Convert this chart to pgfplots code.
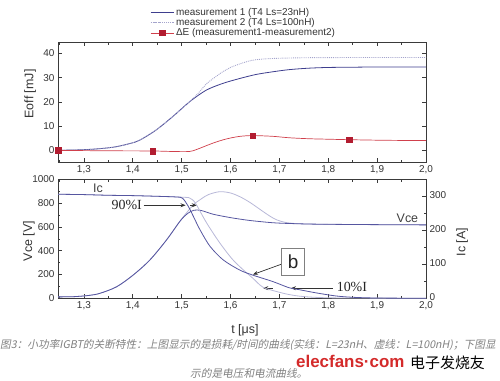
\documentclass[border=0pt]{standalone}
\usepackage{pgfplots}
\pgfplotsset{compat=1.18}
\usepackage{fontspec}
\setmainfont{Liberation Sans}
\newfontfamily\seriffont{Liberation Serif}
\newfontfamily\cjk{Noto Sans CJK SC}
\newfontfamily\cjkit[FakeSlant=0.2]{Noto Sans CJK SC}
\usetikzlibrary{arrows.meta}
\definecolor{mone}{HTML}{3E3E8E}
\definecolor{mtwo}{HTML}{A4A4CC}
\definecolor{bone}{HTML}{5656A0}
\definecolor{btwo}{HTML}{B8B8D8}
\definecolor{dered}{HTML}{D0404C}
\definecolor{demark}{HTML}{B21C30}
\definecolor{framec}{HTML}{3A3A3A}
\definecolor{wmred}{HTML}{D42A2A}
\pgfplotsset{
  myaxis/.style={
    scale only axis, width=368bp, anchor=north west,
    xmin=1.247, xmax=2.0,
    xtick={1.3,1.4,1.5,1.6,1.7,1.8,1.9,2.0},
    minor xtick={1.25,1.35,1.45,1.55,1.65,1.75,1.85,1.95},
    tick align=inside, major tick length=4bp, minor tick length=2.5bp,
    axis line style={framec, line width=0.8bp},
    every tick/.style={framec, line width=0.6bp},
    tick label style={font=\fontsize{10}{12}\selectfont, text=black!80},
    /pgf/number format/assume math mode=true,
    /pgf/number format/1000 sep={},
    xticklabel style={/pgf/number format/.cd, fixed, fixed zerofill, precision=1, use comma},
    label style={font=\fontsize{12.5}{14}\selectfont, text=black!80},
  }
}
\begin{document}
\begin{tikzpicture}
\path[use as bounding box] (0,0) rectangle (500bp,-381bp);
% ---------------- top axis ----------------
\begin{axis}[myaxis, at={(58bp,-42bp)}, height=120bp,
  ymin=-4.8, ymax=44.7, ytick={0,10,20,30,40},
  ylabel={Eoff [mJ]}, ylabel style={at={(axis description cs:-0.076,0.567)}, anchor=center},
  legend style={at={(axis description cs:0.25,1.30)}, anchor=north west, draw=none, fill=none,
    inner sep=0pt, row sep=-2.5bp, font=\fontsize{10}{11}\selectfont, text=black!80,
    cells={anchor=west}},
  legend image code/.code={\draw[mark repeat=2, mark phase=2, #1] plot coordinates {(0bp,0bp) (11.5bp,0bp) (23bp,0bp)};}
]
\addplot[mone, line width=0.8bp, smooth] coordinates {
(1.247,0.05) (1.28,0.15) (1.32,0.5) (1.36,1.3) (1.39,2.6) (1.413,4.1) (1.447,8.3) (1.481,13.8) (1.516,20) (1.55,24.8) (1.584,27.6) (1.618,29.6) (1.652,31.3) (1.686,32.4) (1.72,33.3) (1.76,33.9) (1.8,34.2) (1.85,34.3) (1.9,34.4) (2.0,34.4)};
\addlegendentry{measurement 1 (T4 Ls=23nH)}
\addplot[mtwo, line width=0.9bp, densely dotted, smooth] coordinates {
(1.247,0.05) (1.28,0.15) (1.32,0.5) (1.36,1.3) (1.39,2.6) (1.413,4.1) (1.447,8.3) (1.481,13.8) (1.516,20) (1.535,23.8) (1.55,27.3) (1.567,30) (1.584,32.4) (1.60,34.2) (1.618,35.6) (1.635,36.7) (1.652,37.4) (1.686,37.9) (1.75,38.2) (1.85,38.3) (2.0,38.3)};
\addlegendentry{measurement 2 (T4 Ls=100nH)}
\addplot[dered, line width=0.7bp, smooth,
  legend image post style={mark=square*, mark size=2.8bp, mark options={fill=demark, draw=demark, solid}}] coordinates {
(1.247,0) (1.3,-0.1) (1.38,-0.2) (1.441,-0.25) (1.48,-0.45) (1.516,-0.45) (1.535,0.7) (1.55,1.9) (1.567,3.2) (1.584,4.3) (1.6,5.1) (1.62,5.8) (1.645,6.1) (1.686,5.8) (1.72,5.2) (1.76,4.8) (1.80,4.6) (1.843,4.4) (1.9,4.2) (1.95,4.1) (2.0,4.1)};
\addlegendentry{ΔE (measurement1-measurement2)}
\addplot[only marks, mark=square*, mark size=2.8bp, mark options={fill=demark, draw=demark}, forget plot] coordinates {
(1.247,0) (1.441,-0.25) (1.645,6.1) (1.843,4.4)};
\end{axis}
% ---------------- bottom left axis (Vce) ----------------
\begin{axis}[myaxis, at={(58bp,-179.3bp)}, height=119bp,
  ymin=0, ymax=1000, ytick={0,200,400,600,800,1000}, minor ytick={100,300,500,700,900}, ytick pos=left,
  xlabel={t [μs]}, xlabel style={at={(axis description cs:0.508,-0.266)}, anchor=center},
  ylabel={Vce [V]}, ylabel style={at={(axis description cs:-0.079,0.48)}, anchor=center}]
\addplot[btwo, line width=0.8bp, smooth] coordinates {
(1.247,12) (1.28,14) (1.31,24) (1.333,42) (1.367,97) (1.401,196) (1.435,322) (1.469,490) (1.497,650) (1.512,728) (1.525,790) (1.54,835) (1.555,872) (1.578,896) (1.6,885) (1.62,852) (1.64,805) (1.667,728) (1.68,692) (1.694,660) (1.71,640) (1.73,629) (1.76,624) (1.8,621) (1.9,619) (2.0,617)};
\addplot[bone, line width=0.8bp, smooth] coordinates {
(1.247,12) (1.28,14) (1.31,24) (1.333,42) (1.367,97) (1.401,196) (1.435,322) (1.469,490) (1.497,650) (1.512,712) (1.525,740) (1.54,738) (1.565,706) (1.6,678) (1.632,658) (1.66,645) (1.694,633) (1.75,625) (1.8,622) (1.9,619) (2.0,617)};
% annotations
\node[font=\fontsize{12.5}{14}\selectfont, text=black!75] at (axis cs:1.329,925) {Ic};
\node[font=\fontsize{12.5}{14}\selectfont, text=black!75] at (axis cs:1.962,675) {Vce};
\node[anchor=east, inner sep=1bp, font=\seriffont\fontsize{14}{16}\selectfont, text=black!85] at (axis cs:1.421,782) {90\%I};
\draw[black!80, line width=0.7bp, -{Stealth[length=5bp,width=4bp]}] (axis cs:1.422,782) -- (axis cs:1.508,782);
\draw[black!80, line width=0.7bp, -{Stealth[length=5bp,width=4bp]}] (axis cs:1.518,782) -- (axis cs:1.531,782);
\node[anchor=west, inner sep=1bp, font=\seriffont\fontsize{14}{16}\selectfont, text=black!85] at (axis cs:1.815,97) {10\%I};
\draw[black!80, line width=0.7bp, -{Stealth[length=5bp,width=4bp]}] (axis cs:1.8096,85) -- (axis cs:1.7237,85);
\draw[black!80, line width=0.7bp, -{Stealth[length=5bp,width=4bp]}] (axis cs:1.686,85) -- (axis cs:1.667,85);
\draw[black!80, line width=0.7bp, -{Stealth[length=5bp,width=4bp]}] (axis cs:1.705,288) -- (axis cs:1.646,200);
\node[draw=black!50, line width=0.6bp, minimum width=23bp, minimum height=27bp, inner sep=0pt, fill=white,
  font=\fontsize{19}{20}\selectfont, text=black!85] at (axis cs:1.728,308) {b};
\end{axis}
% ---------------- bottom right axis (Ic) ----------------
\begin{axis}[myaxis, at={(58bp,-179.3bp)}, height=119bp,
  ymin=0, ymax=350, ytick={0,100,200,300}, minor ytick={50,150,250,350},
  axis y line*=right, hide x axis,
  yticklabel style={yshift=1.5bp},
  ylabel={Ic [A]}, ylabel style={at={(axis description cs:1.098,0.473)}, anchor=center}]
\addplot[btwo, line width=0.8bp, smooth] coordinates {
(1.247,306) (1.3,305) (1.35,303) (1.4,302) (1.45,300) (1.49,298) (1.515,296) (1.522,290) (1.53,276) (1.551,222) (1.578,163) (1.605,113) (1.632,76) (1.645,60) (1.666,33) (1.694,20) (1.72,11) (1.75,5) (1.8,1.5) (1.9,0.5) (2.0,0.2)};
\addplot[bone, line width=0.8bp, smooth] coordinates {
(1.247,306) (1.3,305) (1.35,303) (1.4,302) (1.45,300) (1.49,298) (1.502,294) (1.513,272) (1.525,238) (1.537,203) (1.558,153) (1.585,113) (1.619,83) (1.646,68) (1.687,49) (1.72,31) (1.742,25) (1.775,16) (1.815,7) (1.85,3) (1.9,0.8) (2.0,0.2)};
\end{axis}
% ---------------- caption ----------------
\node[anchor=west, inner sep=0pt, text=black!50, font=\cjkit\fontsize{10.7}{12}\selectfont] at (0bp,-345bp) {图3：小功率IGBT的关断特性：上图显示的是损耗/时间的曲线(实线：L=23nH、虚线：L=100nH)；下图显};
\node[anchor=west, inner sep=0pt, text=black!50, font=\cjkit\fontsize{10.7}{12}\selectfont] at (190bp,-373bp) {示的是电压和电流曲线。};
\node[anchor=base west, inner sep=0pt, text=wmred, font=\bfseries\fontsize{17}{18}\selectfont] at (296bp,-367bp) {elecfans·com};
\node[anchor=base west, inner sep=0pt, text=black, font=\cjk\fontsize{15}{16}\selectfont] at (410bp,-368bp) {电子发烧友};
\end{tikzpicture}
\end{document}
